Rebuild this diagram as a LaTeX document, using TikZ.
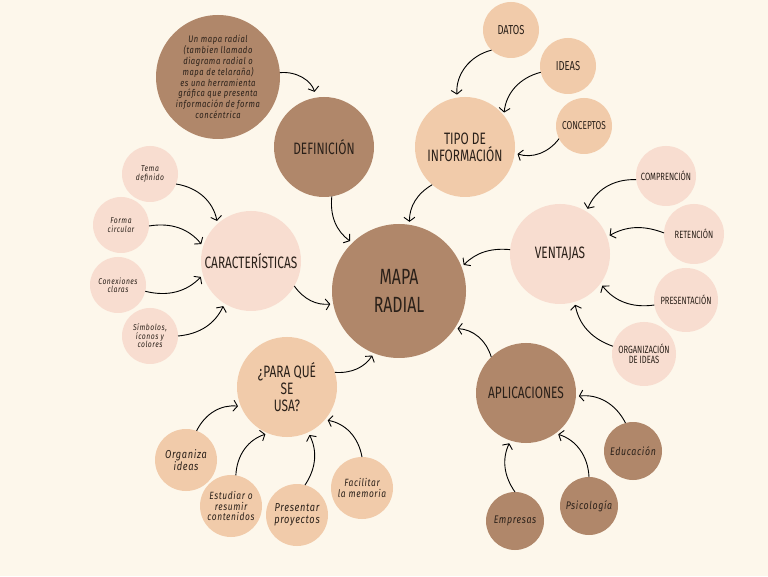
\documentclass[tikz,border=0pt]{standalone}
\usepackage{fontspec}
\setmainfont[FakeStretch=0.72]{Fira Sans}
\newfontfamily\handfont[FakeStretch=0.8,LetterSpace=6]{Fira Sans}
\usetikzlibrary{arrows.meta}
\definecolor{bgc}{HTML}{FDF7EB}
\definecolor{darkc}{HTML}{B0876A}
\definecolor{peachc}{HTML}{F1CBAA}
\definecolor{pinkc}{HTML}{F8DDD0}
\definecolor{inkc}{HTML}{2A2019}
\begin{document}
\begin{tikzpicture}[x=1pt,y=1pt,
  bub/.style={circle,inner sep=0pt,outer sep=0pt,align=center,text=inkc},
  dk/.style={bub,fill=darkc},
  pc/.style={bub,fill=peachc},
  pk/.style={bub,fill=pinkc},
  big/.style={font=\fontsize{16.5}{17}\selectfont},
  capsm/.style={font=\fontsize{10.5}{10.5}\selectfont},
  capmd/.style={font=\fontsize{13}{13}\selectfont},
  hand/.style={font=\handfont\itshape\fontsize{#1}{#1}\selectfont},
  con/.style={-{Straight Barb[length=4pt,width=11pt]},line width=0.9pt,black,shorten >=3pt}
]
\useasboundingbox (0,0) rectangle (768,576);
\fill[bgc] (0,0) rectangle (768,576);

% main
\node[dk,minimum size=134pt,font=\fontsize{22}{28}\selectfont] (main) at (399,285) {MAPA\\RADIAL};

% definition
\node[dk,minimum size=124pt,font=\handfont\itshape\fontsize{9.5}{10.8}\selectfont] (deftext) at (218,499)
  {Un mapa radial\\(tambien llamado\\diagrama radial o\\mapa de telaraña)\\es una herramienta\\gráfica que presenta\\información de forma\\concéntrica};
\node[dk,minimum size=100pt,big] (defin) at (324,429) {DEFINICIÓN};

% tipo de informacion
\node[pc,minimum size=100pt,big] (tipo) at (465,429) {TIPO DE\\INFORMACIÓN};
\node[pc,minimum size=56pt,capmd] (datos) at (511,546) {DATOS};
\node[pc,minimum size=56pt,capmd] (ideas) at (568,510) {IDEAS};
\node[pc,minimum size=56pt,font=\fontsize{11.5}{11.5}\selectfont] (conc) at (584,450) {CONCEPTOS};

% caracteristicas
\node[pk,minimum size=100pt,big] (caract) at (251,315) {CARACTERÍSTICAS};
\node[pk,minimum size=56pt,hand=8.5] (tema) at (150,402) {Tema\\definido};
\node[pk,minimum size=56pt,hand=8.5] (forma) at (121,351) {Forma\\circular};
\node[pk,minimum size=56pt,hand=8.5] (conex) at (118,291) {Conexiones\\claras};
\node[pk,minimum size=56pt,hand=8.5] (simb) at (150,240) {Símbolos,\\íconos y\\colores};

% ventajas
\node[pk,minimum size=100pt,big] (vent) at (560,322) {VENTAJAS};
\node[pk,minimum size=60pt,capsm] (compr) at (666,400) {COMPRENCIÓN};
\node[pk,minimum size=60pt,capsm] (reten) at (694,342) {RETENCIÓN};
\node[pk,minimum size=64pt,capsm] (pres) at (686,276) {PRESENTACIÓN};
\node[pk,minimum size=64pt,capsm] (org) at (644,222) {ORGANIZACIÓN\\DE IDEAS};

% para que se usa
\node[pc,minimum size=100pt,big] (para) at (287,189) {¿PARA QUÉ\\SE\\USA?};
\node[pc,minimum size=62pt,hand=11.5] (organiza) at (186,116) {Organiza\\ideas};
\node[pc,minimum size=62pt,hand=10.5] (estud) at (231,70) {Estudiar o\\resumir\\contenidos};
\node[pc,minimum size=62pt,hand=11.5] (prese) at (297,61) {Presentar\\proyectos};
\node[pc,minimum size=62pt,hand=10.5] (facil) at (362,88) {Facilitar\\la memoria};

% aplicaciones
\node[dk,minimum size=100pt,big] (aplic) at (526,183) {APLICACIONES};
\node[dk,minimum size=58pt,hand=11] (educ) at (633,125) {Educación};
\node[dk,minimum size=58pt,hand=11] (psico) at (589,70) {Psicología};
\node[dk,minimum size=58pt,hand=11] (empr) at (515,55) {Empresas};

% connectors
\draw[con,shorten >=6pt] (deftext.4) to[bend left=40] (defin.99);
\draw[con] (defin.279) to[bend right=30] (main.134);
\draw[con] (tipo.229) to[bend right=30] (main.81);
\draw[con] (datos.226) to[bend right=40] (tipo.99);
\draw[con] (ideas.193) to[bend right=35] (tipo.39);
\draw[con] (conc.207) to[bend left=35] (tipo.-7);

\draw[con] (vent.175) to[bend right=25] (main.21);
\draw[con] (compr.187) to[bend right=35] (vent.58);
\draw[con] (reten.178) to[bend right=25] (vent.20);
\draw[con] (pres.189) to[bend left=30] (vent.-36);
\draw[con] (org.166) to[bend left=30] (vent.-73);

\draw[con] (aplic.134) to[bend right=35] (main.-34);
\draw[con] (educ.105) to[bend right=35] (aplic.-4);
\draw[con] (psico.90) to[bend right=35] (aplic.-54);
\draw[con] (empr.90) to[bend left=30] (aplic.-108);

\draw[con] (caract.-30) to[bend right=30] (main.191);
\draw[con] (tema.-21) to[bend left=35] (caract.132);
\draw[con] (forma.-2) to[bend left=30] (caract.163);
\draw[con] (conex.-13) to[bend right=30] (caract.196);
\draw[con] (simb.0) to[bend right=30] (caract.238);

\draw[con] (para.17) to[bend right=30] (main.248);
\draw[con] (organiza.70) to[bend left=35] (para.203);
\draw[con] (estud.81) to[bend left=35] (para.248);
\draw[con] (prese.75) to[bend right=30] (para.295);
\draw[con] (facil.90) to[bend right=35] (para.319);
\end{tikzpicture}
\end{document}
